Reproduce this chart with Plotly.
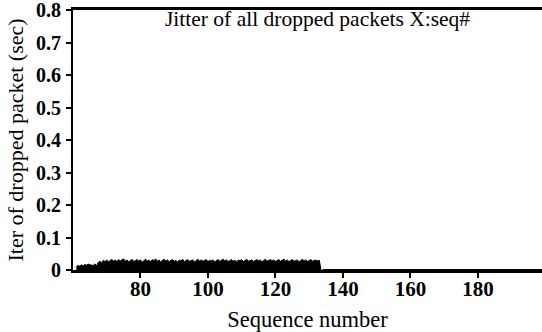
import plotly.graph_objects as go

# Sequence numbers (half steps) and jitter of dropped packets (sec)
seq = [61 + 0.5 * i for i in range(146)]
jitter = [
    0.010, 0.014, 0.012, 0.016, 0.013, 0.017, 0.015, 0.018, 0.016, 0.015,
    0.014, 0.019, 0.013, 0.024, 0.027, 0.022, 0.030, 0.026, 0.031, 0.025,
    0.029, 0.033, 0.027, 0.031, 0.026, 0.032, 0.028, 0.030, 0.034, 0.027,
    0.031, 0.025, 0.029, 0.033, 0.026, 0.030, 0.032, 0.027, 0.031, 0.024,
    0.029, 0.033, 0.028, 0.030, 0.026, 0.032, 0.029, 0.034, 0.027, 0.031,
    0.025, 0.030, 0.033, 0.028, 0.031, 0.026, 0.029, 0.032, 0.027, 0.030,
    0.024, 0.031, 0.028, 0.033, 0.026, 0.030, 0.032, 0.027, 0.029, 0.031,
    0.025, 0.030, 0.033, 0.028, 0.031, 0.027, 0.029, 0.032, 0.026, 0.030,
    0.028, 0.031, 0.025, 0.029, 0.032, 0.027, 0.030, 0.033, 0.028, 0.031,
    0.026, 0.029, 0.032, 0.027, 0.030, 0.025, 0.031, 0.028, 0.032, 0.026,
    0.030, 0.033, 0.027, 0.029, 0.031, 0.026, 0.030, 0.032, 0.028, 0.031,
    0.025, 0.029, 0.033, 0.027, 0.030, 0.032, 0.028, 0.031, 0.026, 0.029,
    0.032, 0.027, 0.030, 0.033, 0.028, 0.031, 0.026, 0.030, 0.032, 0.027,
    0.029, 0.031, 0.025, 0.030, 0.033, 0.028, 0.031, 0.026, 0.030, 0.032,
    0.027, 0.029, 0.031, 0.028, 0.030, 0.000,
]
tail_seq = [134, 199]
tail_jitter = [0.0, 0.0]

x_ticks = [80, 100, 120, 140, 160, 180]
y_ticks = [0, 0.1, 0.2, 0.3, 0.4, 0.5, 0.6, 0.7, 0.8]
y_labels = ["0", "0.1", "0.2", "0.3", "0.4", "0.5", "0.6", "0.7", "0.8"]

fig = go.Figure()
fig.add_trace(go.Scatter(
    x=seq, y=jitter, mode="lines", fill="tozeroy",
    line=dict(color="black", width=1), fillcolor="black", showlegend=False,
))
fig.add_trace(go.Scatter(
    x=tail_seq, y=tail_jitter, mode="lines",
    line=dict(color="black", width=2), showlegend=False,
))

font_family = "Liberation Serif"

fig.update_layout(
    width=542, height=332,
    margin=dict(l=73, r=0, t=10, b=62, autoexpand=False),
    paper_bgcolor="white", plot_bgcolor="white",
    font=dict(family=font_family, color="black"),
    annotations=[dict(
        text="Jitter of all dropped packets X:seq#",
        x=0.522, y=0.965, xref="paper", yref="paper",
        xanchor="center", yanchor="middle", showarrow=False,
        font=dict(size=21.5, family=font_family, color="black"),
    )],
)
fig.update_xaxes(
    range=[60, 199], tickvals=x_ticks, ticktext=[str(v) for v in x_ticks],
    ticks="outside", ticklen=5, tickwidth=2, tickcolor="black",
    showline=True, linecolor="black", linewidth=3, mirror=True,
    showgrid=False, zeroline=False, automargin=False, ticklabelstandoff=-7,
    ticklabeloverflow="allow",
    tickfont=dict(size=21, family=font_family, color="black", weight="bold"),
    title=dict(text="Sequence number", font=dict(size=22.5, family=font_family), standoff=13),
)
fig.update_yaxes(
    range=[0, 0.8], tickvals=y_ticks, ticktext=y_labels,
    ticks="outside", ticklen=5, tickwidth=2, tickcolor="black",
    showline=True, linecolor="black", linewidth=2,
    showgrid=False, zeroline=False, automargin=False, ticklabelstandoff=1,
    ticklabeloverflow="allow",
    tickfont=dict(size=20, family=font_family, color="black", weight="bold"),
    title=dict(text="Iter of dropped packet (sec)", font=dict(size=22, family=font_family), standoff=6),
)

fig.write_html(
    "out.html",
    config={"displayModeBar": False},
    post_script="document.body.style.margin='0';document.body.style.padding='0';",
)
